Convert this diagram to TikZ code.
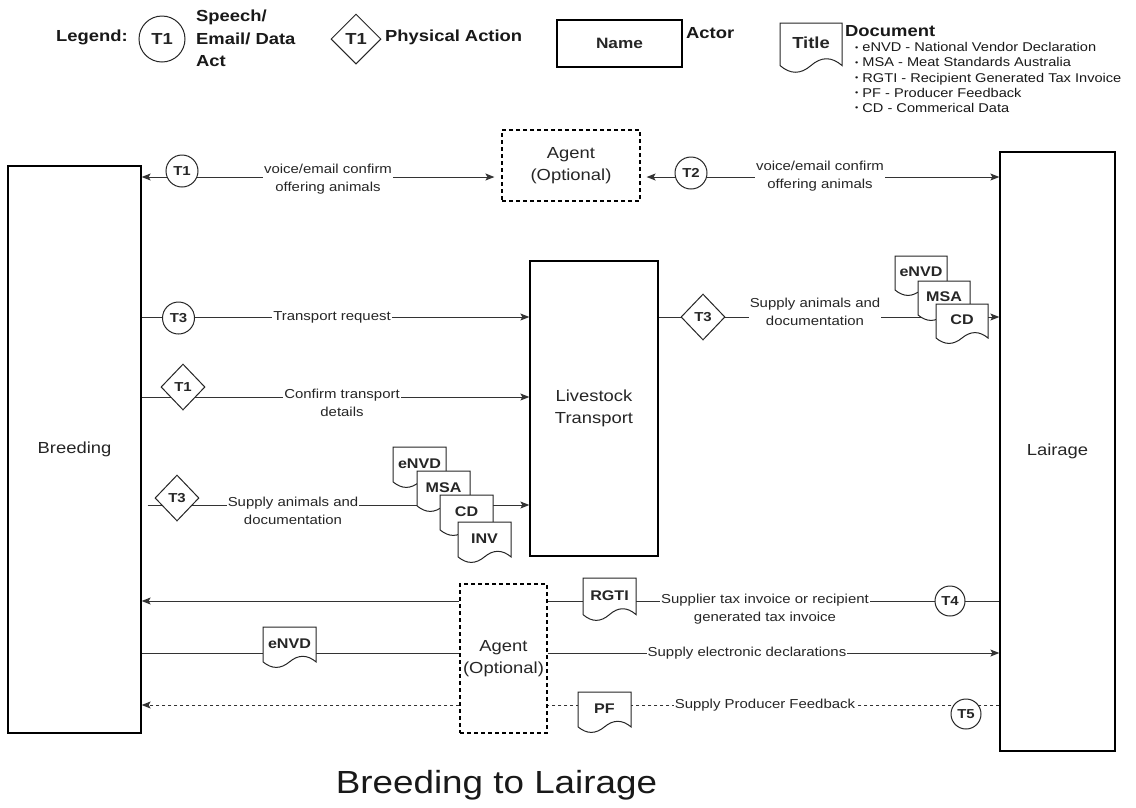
\documentclass[tikz,border=0pt]{standalone}
\usepackage{fontspec}
\setmainfont{Liberation Sans}[FakeStretch=1.15]
\usetikzlibrary{arrows.meta,shapes.geometric,calc}
\newcommand\myfs[2]{\fontsize{#1}{#2}\selectfont}
\tikzset{
 actor/.style={draw=black, line width=1.3pt, fill=white, inner sep=0, font=\myfs{16}{22.5}, text=black!85, align=center},
 agentbox/.style={actor, dash pattern=on 4pt off 3pt, line width=1.2pt},
 conn/.style={draw=black!80, line width=1pt},
 arr/.style={conn, -{Stealth[length=9pt,width=7pt,inset=2pt]}},
 darr/.style={conn, {Stealth[length=9pt,width=7pt,inset=2pt]}-{Stealth[length=9pt,width=7pt,inset=2pt]}},
 dashline/.style={dash pattern=on 3pt off 3pt},
 lbl/.style={fill=white, inner sep=1pt, align=center, font=\myfs{13}{17.5}, text=black!85},
 speech/.style={circle, draw=black!85, line width=1pt, fill=white, inner sep=0, minimum size=32pt, font=\bfseries\myfs{13}{15}, text=black!85},
 phys/.style={diamond, draw=black!85, line width=1pt, fill=white, inner sep=0, minimum width=44pt, minimum height=46pt, font=\bfseries\myfs{13}{15}, text=black!85},
 docline/.style={draw=black!85, line width=1pt, fill=white},
 doctext/.style={inner sep=0, font=\bfseries\myfs{14}{16}, text=black!85},
 legend/.style={inner sep=0, font=\bfseries\myfs{16}{22.5}, text=black!90, align=left},
}
% name, left x, top y, width, height, text, extra node options
\newcommand{\docshape}[7]{%
  \draw[docline] (#2,#3) -- ({#2+#4},#3) -- ({#2+#4},{#3+0.85*#5})
    .. controls ({#2+0.8333*#4},{#3+0.67*#5}) and ({#2+0.6667*#4},{#3+0.67*#5}) .. ({#2+0.5*#4},{#3+0.85*#5})
    .. controls ({#2+0.3333*#4},{#3+1.03*#5}) and ({#2+0.1667*#4},{#3+1.03*#5}) .. (#2,{#3+0.85*#5}) -- cycle;
  \node[doctext,#7] (#1) at ({#2+0.5*#4},{#3+0.4*#5}) {#6};
}
\begin{document}
\begin{tikzpicture}[x=1pt,y=-1pt]
\useasboundingbox[fill=white] (0,0) rectangle (1136,807);

% ---------- legend ----------
\node[legend] (legLabel) at (92,37) {Legend:};
\node[speech, minimum size=46pt, font=\bfseries\myfs{16}{18}] (legT1) at (162,39) {T1};
\node[legend, anchor=west] (legSpeech) at (196,38.5) {Speech/\\Email/ Data\\Act};
\node[phys, minimum width=50pt, minimum height=50pt, font=\bfseries\myfs{16}{18}] (legPhys) at (356,39) {T1};
\node[legend, anchor=west] (legPhysTxt) at (385,37) {Physical Action};
\node[actor, line width=1.2pt, minimum width=125pt, minimum height=47pt, font=\bfseries\myfs{15}{17}] (legName) at (619.5,43.5) {Name};
\node[legend, anchor=west] (legActor) at (686,33) {Actor};
\docshape{legDoc}{780}{23}{62}{50}{Title}{font=\bfseries\myfs{16}{18}}
\node[legend, anchor=west] (legDocTxt) at (845,31) {Document};
\node[anchor=west, align=left, inner sep=0, font=\myfs{12.7}{15.2}, text=black!90] (legList) at (855,77.5)
 {\raisebox{1.5pt}{\myfs{8}{8}\textbullet}\hspace{4pt}eNVD - National Vendor Declaration\\
  \raisebox{1.5pt}{\myfs{8}{8}\textbullet}\hspace{4pt}MSA - Meat Standards Australia\\
  \raisebox{1.5pt}{\myfs{8}{8}\textbullet}\hspace{4pt}RGTI - Recipient Generated Tax Invoice\\
  \raisebox{1.5pt}{\myfs{8}{8}\textbullet}\hspace{4pt}PF - Producer Feedback\\
  \raisebox{1.5pt}{\myfs{8}{8}\textbullet}\hspace{4pt}CD - Commerical Data};

% ---------- actors ----------
\node[actor, minimum width=133pt, minimum height=567pt] (breeding) at (74.5,449.5) {Breeding};
\node[actor, minimum width=128pt, minimum height=295pt] (transport) at (594,408.5) {Livestock\\Transport};
\node[actor, minimum width=115pt, minimum height=599pt] (lairage) at (1057.5,451.5) {Lairage};
\node[agentbox, minimum width=138pt, minimum height=71pt] (agentA) at (571,165.5) {Agent\\(Optional)};
\node[agentbox, minimum width=87pt, minimum height=149pt] (agentB) at (503.5,658.5) {Agent\\(Optional)};

% row levels
\coordinate (r1) at (0,177);
\coordinate (r2) at (0,317);
\coordinate (r3) at (0,397);
\coordinate (r4) at (0,505);
\coordinate (r5) at (0,601);
\coordinate (r6) at (0,653);
\coordinate (r7) at (0,705);

% ---------- connectors ----------
\draw[darr, shorten >=7pt] (breeding.east |- r1) -- (agentA.west |- r1);
\draw[darr, shorten <=6pt] (agentA.east |- r1) -- (lairage.west |- r1);
\draw[arr] (breeding.east |- r2) -- (transport.west |- r2);
\draw[arr] (breeding.east |- r3) -- (transport.west |- r3);
\draw[arr, shorten <=6pt] (breeding.east |- r4) -- (transport.west |- r4);
\draw[arr] (transport.east |- r2) -- (lairage.west |- r2);
\draw[conn] (lairage.west |- r5) -- (agentB.east |- r5);
\draw[arr] (agentB.west |- r5) -- (breeding.east |- r5);
\draw[conn] (breeding.east |- r6) -- (agentB.west |- r6);
\draw[arr] (agentB.east |- r6) -- (lairage.west |- r6);
\draw[conn, dashline] (lairage.west |- r7) -- (agentB.east |- r7);
\draw[arr, dashline] (agentB.west |- r7) -- (breeding.east |- r7);

% ---------- labels ----------
\node[lbl] (l1) at (328,179) {voice/email confirm\\offering animals};
\node[lbl] (l2) at (820,176) {voice/email confirm\\offering animals};
\node[lbl] (l3) at (332,317) {Transport request};
\node[lbl] (l4) at (342,403) {Confirm transport\\details};
\node[lbl] (l5) at (293,511) {Supply animals and\\documentation};
\node[lbl] (l6) at (815,312) {Supply animals and\\documentation};
\node[lbl] (l7) at (765,609) {Supplier tax invoice or recipient\\generated tax invoice};
\node[lbl] (l8) at (747,653) {Supply electronic declarations};
\node[lbl] (l9) at (765,705) {Supply Producer Feedback};

% ---------- acts ----------
\node[speech] (t1) at (182,171) {T1};
\node[speech] (t2) at (691,173) {T2};
\node[speech] (t3) at (178.5,318) {T3};
\node[phys] (p1) at (183,387) {T1};
\node[phys] (p3a) at (177,498) {T3};
\node[phys] (p3b) at (703,317) {T3};
\node[speech, minimum size=30pt] (t4) at (950,601) {T4};
\node[speech, minimum size=30pt] (t5) at (966,714) {T5};

% ---------- documents ----------
\docshape{dEnvdA}{895}{256}{52}{40}{eNVD}{}
\docshape{dMsaA}{918}{281}{52}{40}{MSA}{}
\docshape{dCdA}{936}{304}{52}{40}{CD}{}
\docshape{dEnvdB}{393}{447}{53}{41}{eNVD}{}
\docshape{dMsaB}{417}{471}{53}{41}{MSA}{}
\docshape{dCdB}{440}{495}{53}{41}{CD}{}
\docshape{dInvB}{458}{522}{53}{41}{INV}{}
\docshape{dRgti}{583}{578}{53}{43}{RGTI}{}
\docshape{dEnvdC}{263}{627}{53}{41}{eNVD}{}
\docshape{dPf}{578}{692}{53}{41}{PF}{}

% ---------- title ----------
\node[inner sep=0, font=\myfs{32}{36}, text=black!90] (title) at (496.5,785) {Breeding to Lairage};
\end{tikzpicture}
\end{document}
